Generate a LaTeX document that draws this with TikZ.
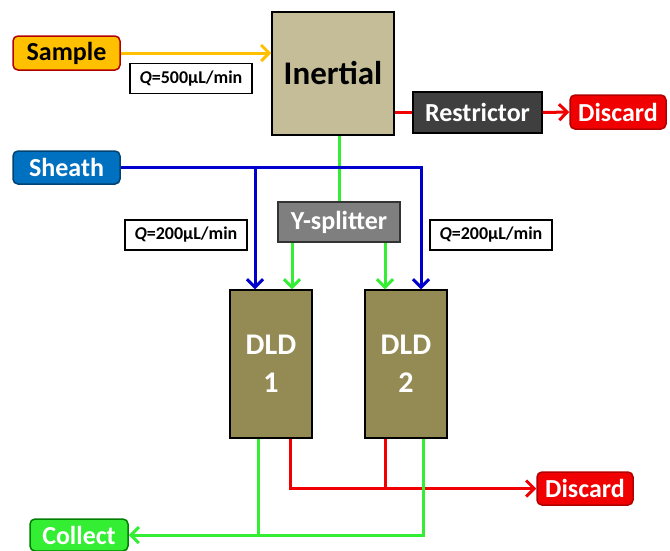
\documentclass[tikz,border=0pt]{standalone}
\usepackage{fontspec}
\setmainfont{Carlito}
\usetikzlibrary{arrows.meta}

\definecolor{amber}{HTML}{FFC000}
\definecolor{khaki}{HTML}{C4BD97}
\definecolor{olive}{HTML}{948A54}
\definecolor{coal}{HTML}{3F3F3F}
\definecolor{slate}{HTML}{7F7F7F}
\definecolor{ocean}{HTML}{0070C0}
\definecolor{alarm}{HTML}{F00000}
\definecolor{lime}{HTML}{33EE33}
\definecolor{navy}{HTML}{0000CC}

\begin{document}
\begin{tikzpicture}[x=1pt, y=-1pt,
 box/.style={draw, line width=1.5pt, inner sep=0pt, align=center,
  font=\fontsize{26}{38}\selectfont\bfseries},
 tag/.style={box, rounded corners=5pt, text=white},
 rate/.style={draw, line width=1.2pt, fill=white, inner sep=0pt,
  minimum width=122pt, minimum height=30pt, font=\fontsize{18}{20}\selectfont\bfseries},
 pipe/.style={line width=3pt},
 tip/.style={-{Straight Barb[length=8pt,width=16pt]}}]
 \useasboundingbox (0,0) rectangle (670,550);

 % inputs
 \node[tag, fill=amber, draw=red!70!black, text=black, minimum width=107pt, minimum height=34pt] (sample) at (66.5,53) {Sample};
 \node[tag, fill=ocean, draw=ocean!60!black, minimum width=107pt, minimum height=33pt] (sheath) at (66.5,167.5) {Sheath};

 % stages
 \node[box, fill=khaki, minimum width=122pt, minimum height=123pt, font=\fontsize{33}{36}\selectfont\bfseries] (inertial) at (333,73.5) {Inertial};
 \node[box, fill=coal, text=white, minimum width=129pt, minimum height=41pt] (restrictor) at (477.5,112.5) {Restrictor};
 \node[box, fill=slate, draw=black!80, text=white, minimum width=122pt, minimum height=40pt] (ysplit) at (339,222) {Y-splitter};
 \node[box, fill=olive, text=white, minimum width=82pt, minimum height=148pt, font=\fontsize{30}{38}\selectfont\bfseries] (dldA) at (271,364) {DLD\\1};
 \node[box, fill=olive, text=white, minimum width=82pt, minimum height=148pt, font=\fontsize{30}{38}\selectfont\bfseries] (dldB) at (406,364) {DLD\\2};

 % outputs
 \node[tag, fill=alarm, draw=red!70!black, minimum width=96pt, minimum height=34pt] (discardA) at (618,112) {Discard};
 \node[tag, fill=alarm, draw=red!70!black, minimum width=96pt, minimum height=33pt] (discardB) at (585,488.5) {Discard};
 \node[tag, fill=lime, draw=green!50!black, minimum width=98pt, minimum height=32pt] (collect) at (79,535) {Collect};

 % flow rates
 \node[rate] (qin) at (191,78.5) {\textit{Q}=500µL/min};
 \node[rate] (qa) at (186,235) {\textit{Q}=200µL/min};
 \node[rate] (qb) at (491,235) {\textit{Q}=200µL/min};

 % sample path
 \draw[pipe, amber, tip] (sample.east) -- (sample.east -| inertial.west);
 \draw[pipe, alarm] (restrictor.west -| inertial.east) -- (restrictor.west);
 \draw[pipe, alarm, tip] (restrictor.east) -- (discardA.west);
 \draw[pipe, lime] (ysplit.north |- inertial.south) -- (ysplit.north);
 \draw[pipe, lime, tip] ([xshift=21pt]dldA.north |- ysplit.south) -- ([xshift=21pt]dldA.north);
 \draw[pipe, lime, tip] ([xshift=-21pt]dldB.north |- ysplit.south) -- ([xshift=-21pt]dldB.north);

 % sheath path
 \draw[pipe, navy, tip] (sheath.east) -| ([xshift=15pt]dldB.north);
 \draw[pipe, navy, tip] ([xshift=-16pt]dldA.north |- sheath.east) -- ([xshift=-16pt]dldA.north);

 % outlets
 \draw[pipe, alarm, tip] ([xshift=19pt]dldA.south) |- (discardB.west);
 \draw[pipe, alarm] ([xshift=-21pt]dldB.south) -- ([xshift=-21pt]dldB.south |- discardB.west);
 \draw[pipe, lime, tip] ([xshift=17pt]dldB.south) |- (collect.east);
 \draw[pipe, lime] ([xshift=-13pt]dldA.south) -- ([xshift=-13pt]dldA.south |- collect.east);
\end{tikzpicture}
\end{document}
